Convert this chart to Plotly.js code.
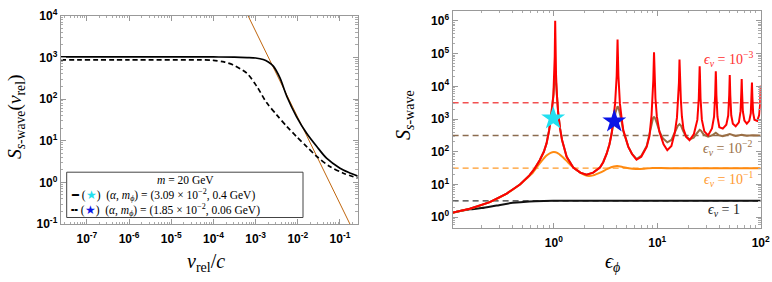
<!DOCTYPE html>
<html>
<head>
<meta charset="utf-8">
<script src="https://cdn.plot.ly/plotly-3.0.1.min.js"></script>
<style>html,body{margin:0;padding:0;background:#fff;}#chart{width:772px;height:282px;}</style>
</head>
<body>
<div id="chart"></div>
<script>
// ---------- Left panel data ----------
const vSolid = [2.4e-8, 1e-6, 1e-4, 3.16e-4, 6.31e-4, 1e-3, 1.51e-3, 2.0e-3, 2.63e-3, 3.8e-3, 5.5e-3, 9.3e-3, 1.62e-2, 2.82e-2, 4.79e-2, 0.1, 0.158, 0.263];
const sSolid = [1023, 1023, 1023, 1012, 989, 966, 891, 776, 617, 316, 115, 38, 15.1, 7.24, 3.8, 2.19, 1.74, 1.41];
const vDashed = [2.4e-8, 1e-6, 5e-5, 1e-4, 1.78e-4, 2.88e-4, 6.17e-4, 1.07e-3, 1.82e-3, 3.16e-3, 5.5e-3, 9.3e-3, 1.62e-2, 2.82e-2, 5.75e-2, 0.12, 0.263];
const sDashed = [871, 871, 871, 851, 776, 661, 417, 200, 82, 41.7, 21.9, 12.6, 7.24, 4.17, 2.40, 1.66, 1.26];
const vLine = [5.01e-4, 0.251];
const sLine = [17783, 0.0457];

// ---------- Right panel data ----------
const redX = [0.105,0.154,0.24,0.35,0.47,0.58,0.65,0.73,0.80,0.85,0.90,0.95,0.99,1.01,1.02,1.03,1.04,1.05,1.07,1.10,1.15,1.20,1.33,1.54,1.80,2.07,2.40,2.79,3.00,3.24,3.45,3.62,3.91,4.00,4.05,4.10,4.13,4.16,4.21,4.26,4.35,4.50,4.69,5.25,5.70,6.30,7.00,7.90,8.40,8.80,9.00,9.15,9.30,9.45,9.60,9.90,10.5,11.5,12.5,13.7,14.8,15.5,15.9,16.2,16.4,16.6,16.9,17.3,17.9,19.0,20.5,22.6,24.4,25.2,25.55,25.7,25.85,26.2,27.0,28.5,31.0,33.8,35.4,36.3,36.6,36.8,37.0,37.3,38.2,39.8,43.0,46.5,48.5,49.6,50.2,50.8,51.9,53.8,57.3,61.5,63.9,65.0,65.5,66.0,67.2,69.6,73.4,77.5,80.2,81.5,82.3,83.1,84.5,87.0,92.4,96.5,98.7,100];
const redY = [1.38,1.82,2.9,5.3,10,19,30,55,100,180,450,1500,5600,2.2e4,8.3e4,1e6,8.3e4,2.2e4,5600,1600,500,230,70,33,23,20,23,33,48,87,170,360,3000,8200,2.06e4,1e5,2.7e5,1e5,2.06e4,8200,3000,1200,460,141,85,57,70,141,300,1300,4300,1.5e4,1.1e5,1.5e4,4300,1200,400,170,112,150,400,1100,3900,1.3e4,6.6e4,1.3e4,3900,1200,500,290,225,350,940,4250,2.3e4,4.1e4,2.3e4,4250,940,420,317,515,1180,5430,1.7e4,2.9e4,1.7e4,5430,1180,560,510,670,1280,5400,2.2e4,5400,1300,720,600,790,1740,7060,1.66e4,7060,1700,900,720,880,1500,4700,1.3e4,4700,1550,950,880,1300,2800,1.05e4];

const brownX = [0.105,0.154,0.24,0.35,0.47,0.58,0.65,0.73,0.80,0.85,0.90,0.95,0.99,1.01,1.03,1.05,1.07,1.10,1.15,1.20,1.33,1.54,1.80,2.07,2.40,2.79,3.00,3.24,3.45,3.62,3.80,3.95,4.05,4.13,4.22,4.35,4.50,4.69,5.25,5.70,6.30,7.00,7.90,8.40,8.80,9.10,9.30,9.50,9.90,10.5,11.3,12.5,13.7,15.0,15.8,16.4,17.0,17.8,19.0,20.5,22.5,24.0,25.0,25.7,26.5,28.0,31.0,34.0,36.8,39.5,43.0,50.2,57.3,65.5,73.4,82.3,92.4,100];
const brownY = [1.38,1.82,2.9,5.3,10,19,30,55,100,180,450,1500,5000,1.3e4,2.2e4,1.3e4,5000,1600,500,230,70,33,23,20,23,33,48,87,170,340,800,1600,2200,2450,2200,1500,900,430,141,86,60,75,150,340,750,1080,1150,1080,750,420,260,195,230,420,620,700,620,430,290,240,270,360,440,470,440,340,290,320,380,320,300,345,305,328,310,320,312,316];

const orangeX = [0.105,0.154,0.24,0.35,0.47,0.55,0.61,0.68,0.76,0.85,0.93,1.0,1.08,1.2,1.35,1.5,1.66,1.85,2.1,2.4,2.8,3.3,3.8,4.1,4.6,5.3,6.2,7.5,9.0,11,14,20,40,100];
const orangeY = [1.38,1.82,2.9,5.3,10,15.5,21,33,52,77,93,98,93,72,50,36,28,22,18.5,19,23,30,35.5,36.5,34.5,31.5,30,30.5,31.8,31.8,31.4,31.4,31.4,31.4];

const blackX = [0.105,0.154,0.2,0.28,0.4,0.58,0.8,1.2,2,5,20,100];
const blackY = [1.38,1.75,1.9,2.28,2.75,3.05,3.15,3.18,3.2,3.2,3.2,3.2];

const epsV = ['1', '10<sup>−1</sup>', '10<sup>−2</sup>', '10<sup>−3</sup>'];
const coulomb = [3.1416, 31.416, 314.16, 3141.6];
const edgeX = [0.105, 100];

const starX = [0.985, 3.84];
const starY = [1050, 850];

const leftTicks = [1e-7,1e-6,1e-5,1e-4,1e-3,1e-2,1e-1];
const leftTickText = ['10<sup>-7</sup>','10<sup>-6</sup>','10<sup>-5</sup>','10<sup>-4</sup>','10<sup>-3</sup>','10<sup>-2</sup>','10<sup>-1</sup>'];
const leftYTicks = [0.1,1,10,100,1000,10000];
const leftYText = ['10<sup>-1</sup>','10<sup>0</sup>','10<sup>1</sup>','10<sup>2</sup>','10<sup>3</sup>','10<sup>4</sup>'];
const rightXTicks = [1,10,100];
const rightXText = ['10<sup>0</sup>','10<sup>1</sup>','10<sup>2</sup>'];
const rightYTicks = [1,10,100,1e3,1e4,1e5,1e6];
const rightYText = ['10<sup>0</sup>','10<sup>1</sup>','10<sup>2</sup>','10<sup>3</sup>','10<sup>4</sup>','10<sup>5</sup>','10<sup>6</sup>'];

const legendTitle = '<i>m</i> = 20 GeV';
const legendRows = [
  '━ (<span style="color:#22e0f0">★</span>)  (<i>α</i>, <i>m</i><sub><i>ϕ</i></sub>) = (3.09 × 10<sup>−2</sup>, 0.4 GeV)',
  '╍ (<span style="color:#0a14e6">★</span>)  (<i>α</i>, <i>m</i><sub><i>ϕ</i></sub>) = (1.85 × 10<sup>−2</sup>, 0.06 GeV)'
];

const SERIF = 'Liberation Serif, DejaVu Serif, serif';
const colRed = '#ff0000', colBrown = '#9a6e44', colOrange = '#ff8a10', colBlack = '#111111';
const dashCols = ['#333333', '#ff9a2a', '#8b6b4f', 'rgba(240,50,50,0.85)'];
const labelCols = ['#222222', '#ff9a30', '#9b7048', '#ff3030'];

const traces = [];
// left
traces.push({x: vLine, y: sLine, xaxis: 'x', yaxis: 'y', mode: 'lines', line: {color: '#c0660e', width: 1}, hoverinfo: 'skip'});
traces.push({x: vSolid, y: sSolid, xaxis: 'x', yaxis: 'y', mode: 'lines', line: {color: '#000', width: 1.7, shape: 'spline', smoothing: 0.8}});
traces.push({x: vDashed, y: sDashed, xaxis: 'x', yaxis: 'y', mode: 'lines', line: {color: '#000', width: 1.7, dash: '5px,3px', shape: 'spline', smoothing: 0.8}});
// right dashed references
for (let i = 0; i < 4; i++) {
  traces.push({x: edgeX, y: [coulomb[i], coulomb[i]], xaxis: 'x2', yaxis: 'y2', mode: 'lines', line: {color: dashCols[i], width: 1.3, dash: '6px,4px'}, hoverinfo: 'skip'});
}
traces.push({x: blackX, y: blackY, xaxis: 'x2', yaxis: 'y2', mode: 'lines', line: {color: colBlack, width: 2, shape: 'spline', smoothing: 0.6}});
traces.push({x: orangeX, y: orangeY, xaxis: 'x2', yaxis: 'y2', mode: 'lines', line: {color: colOrange, width: 2, shape: 'spline', smoothing: 0.6}});
traces.push({x: brownX, y: brownY, xaxis: 'x2', yaxis: 'y2', mode: 'lines', line: {color: colBrown, width: 2}});
traces.push({x: redX, y: redY, xaxis: 'x2', yaxis: 'y2', mode: 'lines', line: {color: colRed, width: 2}});
traces.push({x: starX, y: starY, xaxis: 'x2', yaxis: 'y2', mode: 'markers', marker: {symbol: 'star', size: 18, color: ['#22e0f0', '#0a14e6'], line: {width: 0}}});

const axBase = {
  type: 'log', showline: true, linecolor: '#999', linewidth: 1, mirror: 'ticks',
  ticks: 'inside', ticklen: 5, tickcolor: '#999', tickwidth: 1,
  showgrid: false, zeroline: false, tickmode: 'array', tickangle: 0,
  tickfont: {family: 'Liberation Sans, Arial, sans-serif', size: 12, color: '#000', weight: 700},
  automargin: false, fixedrange: true,
  minor: {tickmode: 'linear', dtick: 'D1', ticks: 'inside', ticklen: 2.5, tickcolor: '#aaa', showgrid: false}
};
function ax(extra) { return Object.assign({}, axBase, extra); }

const W = 772, H = 282;
const annotations = [
  {text: '<i>v</i><sub>rel</sub>/<i>c</i>', x: 206 / W, y: 1 - 262 / H, font: {family: SERIF, size: 20, color: '#000'}},
  {text: '<i>S</i><sub><i>s</i>-wave</sub>(<i>v</i><sub>rel</sub>)', x: 16 / W, y: 1 - 117 / H, textangle: -90, font: {family: SERIF, size: 19.5, color: '#000'}},
  {text: '<i>ϵ</i><sub><i>ϕ</i></sub>', x: 612 / W, y: 1 - 262 / H, font: {family: SERIF, size: 20, color: '#000'}},
  {text: '<i>S</i><sub><i>s</i>-wave</sub>', x: 404 / W, y: 1 - 115 / H, textangle: -90, font: {family: SERIF, size: 20, color: '#000'}}
];
const labelPos = [[724, 210.7], [728, 179.3], [727, 147.7], [728, 59.3]];
for (let i = 0; i < 4; i++) {
  annotations.push({text: '<i>ϵ</i><sub><i>v</i></sub> = ' + epsV[i], x: labelPos[i][0] / W, y: 1 - labelPos[i][1] / H,
    font: {family: SERIF, size: 14, color: labelCols[i]}});
}
annotations.push({text: legendTitle, x: 185 / W, y: 1 - 179.6 / H, font: {family: SERIF, size: 11.5, color: '#000'}});
annotations.forEach(a => { a.xanchor = 'center'; a.yanchor = 'middle'; });
const rowY = [195, 209.6];
for (let i = 0; i < 2; i++) {
  annotations.push({text: legendRows[i], x: 69 / W, y: 1 - rowY[i] / H, xanchor: 'left', yanchor: 'middle',
    font: {family: SERIF, size: 11.5, color: '#000'}});
}
annotations.forEach(a => { a.xref = 'paper'; a.yref = 'paper'; a.showarrow = false; });

const layout = {
  width: W, height: H,
  margin: {l: 0, r: 0, t: 0, b: 0},
  paper_bgcolor: '#fff', plot_bgcolor: 'rgba(0,0,0,0)',
  xaxis: ax({domain: [60.7 / W, 357.7 / W], range: [-7.62, -0.58], anchor: 'y', tickvals: leftTicks, ticktext: leftTickText, ticklabelstandoff: 4}),
  yaxis: ax({domain: [1 - 224 / H, 1 - 15.7 / H], range: [-1, 4], anchor: 'x', tickvals: leftYTicks, ticktext: leftYText}),
  xaxis2: ax({domain: [452.5 / W, 760.7 / W], range: [-0.98, 2], anchor: 'y2', tickvals: rightXTicks, ticktext: rightXText, ticklabelstandoff: 4}),
  yaxis2: ax({domain: [1 - 227.7 / H, 1 - 10.7 / H], range: [-0.32, 6.31], anchor: 'x2', tickvals: rightYTicks, ticktext: rightYText}),
  showlegend: false,
  shapes: [{type: 'rect', xref: 'paper', yref: 'paper', x0: 66.7 / W, x1: 303 / W, y0: 1 - 217.5 / H, y1: 1 - 172.2 / H,
    line: {color: '#444', width: 1}, fillcolor: '#fff', layer: 'above'}],
  annotations: annotations
};

Plotly.newPlot('chart', traces, layout, {displayModeBar: false, staticPlot: true});
</script>
</body>
</html>
